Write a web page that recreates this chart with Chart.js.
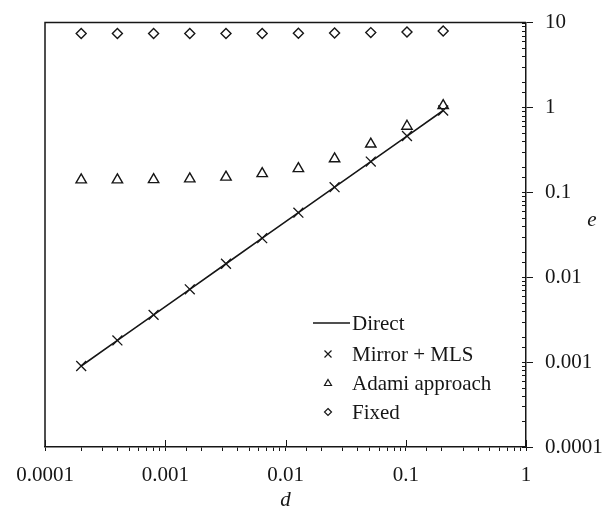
<!DOCTYPE html>
<html>
<head>
<meta charset="utf-8">
<script src="https://cdn.jsdelivr.net/npm/chart.js@4/dist/chart.umd.min.js"></script>
<style>
  html, body { margin: 0; padding: 0; background: #fff; }
  canvas { display: block; }
</style>
</head>
<body>
<canvas id="chart" width="611" height="511"></canvas>
<script>
// d values (x) shared by every series
const dValues = [0.0002, 0.0004, 0.0008, 0.0016, 0.0032, 0.0064, 0.0128, 0.0256, 0.0512, 0.1024, 0.2048];
// error e for each approach
const directValues = [0.0009, 0.0018, 0.0036, 0.0072, 0.0144, 0.0288, 0.0576, 0.115, 0.23, 0.46, 0.92];
const mirrorValues = [0.0009, 0.0018, 0.0036, 0.0072, 0.0144, 0.0288, 0.0576, 0.115, 0.23, 0.46, 0.92];
const adamiValues = [0.14, 0.14, 0.141, 0.144, 0.151, 0.166, 0.19, 0.248, 0.37, 0.6, 1.05];
const fixedValues = [7.4, 7.4, 7.4, 7.4, 7.4, 7.4, 7.45, 7.5, 7.6, 7.75, 7.95];

const seriesNames = ['Direct', 'Mirror + MLS', 'Adami approach', 'Fixed'];
const xTickLabels = ['0.0001', '0.001', '0.01', '0.1', '1'];
const yTickLabels = ['0.0001', '0.001', '0.01', '0.1', '1', '10'];

const ink = '#161616';
const serif = "'Liberation Serif', 'Times New Roman', serif";

function toPoints(vals) {
  return dValues.map((d, i) => ({ x: d, y: vals[i] }));
}
function decade(v) {
  const l = Math.log10(v);
  return Math.abs(l - Math.round(l)) < 1e-6 ? Math.round(l) : null;
}

// left/top frame, inward ticks, e label and the legend
const framePlugin = {
  id: 'frame',
  afterDraw(chart) {
    const { ctx, chartArea: a, scales } = chart;
    const x = scales.x, y = scales.y;
    ctx.save();
    ctx.strokeStyle = ink;
    ctx.lineWidth = 1.5;
    ctx.beginPath();
    ctx.moveTo(a.left, a.bottom);
    ctx.lineTo(a.left, a.top);
    ctx.lineTo(a.right, a.top);
    ctx.stroke();

    ctx.lineWidth = 1;
    ctx.beginPath();
    x.ticks.forEach(t => {
      if (decade(t.value) === null) return;
      const px = Math.round(x.getPixelForValue(t.value)) + 0.5;
      ctx.moveTo(px, a.bottom);
      ctx.lineTo(px, a.bottom - 7);
    });
    y.ticks.forEach(t => {
      const py = Math.round(y.getPixelForValue(t.value)) + 0.5;
      ctx.moveTo(a.right, py);
      ctx.lineTo(a.right - 4, py);
    });
    ctx.stroke();

    // y axis title, upright
    ctx.fillStyle = ink;
    ctx.font = 'italic 21px ' + serif;
    ctx.textAlign = 'center';
    ctx.textBaseline = 'alphabetic';
    ctx.fillText('e', 592, 226);

    // legend
    const lx = 328, tx = 352;
    const rows = [323, 354, 383, 412];
    ctx.font = '21px ' + serif;
    ctx.textAlign = 'left';
    ctx.textBaseline = 'middle';
    ctx.lineWidth = 1.5;
    ctx.beginPath();
    ctx.moveTo(313, rows[0]);
    ctx.lineTo(350, rows[0]);
    ctx.stroke();
    ctx.lineWidth = 1.2;
    ctx.beginPath();
    ctx.moveTo(lx - 3.5, rows[1] - 3.5); ctx.lineTo(lx + 3.5, rows[1] + 3.5);
    ctx.moveTo(lx + 3.5, rows[1] - 3.5); ctx.lineTo(lx - 3.5, rows[1] + 3.5);
    ctx.moveTo(lx, rows[2] - 3.5); ctx.lineTo(lx + 3.5, rows[2] + 2.5); ctx.lineTo(lx - 3.5, rows[2] + 2.5); ctx.closePath();
    ctx.moveTo(lx, rows[3] - 3.5); ctx.lineTo(lx + 3.5, rows[3]); ctx.lineTo(lx, rows[3] + 3.5); ctx.lineTo(lx - 3.5, rows[3]); ctx.closePath();
    ctx.stroke();
    seriesNames.forEach((n, i) => ctx.fillText(n, tx, rows[i] + 1));
    ctx.restore();
  }
};

new Chart(document.getElementById('chart'), {
  type: 'scatter',
  data: {
    datasets: [
      {
        label: seriesNames[0],
        data: toPoints(directValues),
        showLine: true,
        borderColor: ink,
        borderWidth: 1.6,
        pointRadius: 0
      },
      {
        label: seriesNames[1],
        data: toPoints(mirrorValues),
        pointStyle: 'crossRot',
        pointRadius: 7,
        borderColor: ink,
        borderWidth: 1.3
      },
      {
        label: seriesNames[2],
        data: toPoints(adamiValues),
        pointStyle: 'triangle',
        pointRadius: 6,
        borderColor: ink,
        backgroundColor: 'rgba(0,0,0,0)',
        borderWidth: 1.4
      },
      {
        label: seriesNames[3],
        data: toPoints(fixedValues),
        pointStyle: 'rectRot',
        pointRadius: 5,
        borderColor: ink,
        backgroundColor: 'rgba(0,0,0,0)',
        borderWidth: 1.4
      }
    ]
  },
  options: {
    responsive: false,
    animation: false,
    devicePixelRatio: 1,
    layout: { padding: { left: 45, top: 12, right: 0, bottom: 0 } },
    plugins: { legend: { display: false }, tooltip: { enabled: false } },
    scales: {
      x: {
        type: 'logarithmic',
        position: 'bottom',
        min: 0.0001,
        max: 1,
        afterFit(s) { s.height = 64; },
        border: { color: ink, width: 1.5 },
        grid: { drawOnChartArea: false, tickLength: 4, tickColor: ink, tickWidth: 1 },
        ticks: {
          autoSkip: false,
          maxRotation: 0,
          minRotation: 0,
          padding: 14,
          color: ink,
          font: { family: serif, size: 21, lineHeight: 1 },
          callback(v) {
            const k = decade(v);
            return k === null ? '' : xTickLabels[k + 4];
          }
        },
        title: {
          display: true,
          text: 'd',
          color: ink,
          padding: 0,
          font: { family: serif, size: 21, style: 'italic', lineHeight: 1 }
        }
      },
      y: {
        type: 'logarithmic',
        position: 'right',
        min: 0.0001,
        max: 10,
        afterFit(s) { s.width = 85; },
        border: { color: ink, width: 1.5 },
        grid: {
          drawOnChartArea: false,
          tickLength: 7,
          tickWidth: 1,
          tickColor: c => (c.tick && decade(c.tick.value) !== null) ? ink : 'rgba(0,0,0,0)'
        },
        ticks: {
          autoSkip: false,
          padding: 12,
          color: ink,
          font: { family: serif, size: 21, lineHeight: 1 },
          callback(v) {
            const k = decade(v);
            return k === null ? '' : yTickLabels[k + 4];
          }
        }
      }
    }
  },
  plugins: [framePlugin]
});
</script>
</body>
</html>
